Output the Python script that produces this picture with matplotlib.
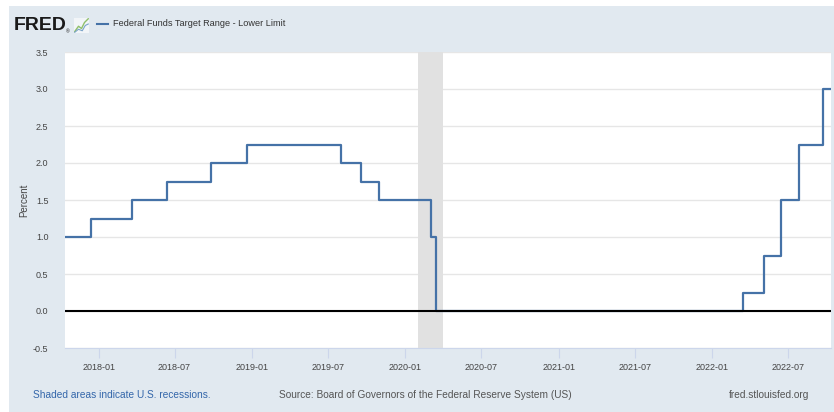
import matplotlib
matplotlib.use("Agg")
import matplotlib.pyplot as plt
import matplotlib.dates as mdates
import numpy as np
import pandas as pd

plt.rcParams['font.family'] = ['Liberation Sans', 'DejaVu Sans']

# Data: Federal Funds Target Range - Lower Limit (step changes)
change_dates = ["2017-10-13", "2017-12-14", "2018-03-22", "2018-06-14", "2018-09-27",
                "2018-12-20", "2019-08-01", "2019-09-19", "2019-10-31", "2020-03-04",
                "2020-03-16", "2022-03-17", "2022-05-05", "2022-06-16", "2022-07-28",
                "2022-09-22", "2022-10-12"]
rate_values = [1.00, 1.25, 1.50, 1.75, 2.00, 2.25, 2.00, 1.75, 1.50, 1.00,
               0.00, 0.25, 0.75, 1.50, 2.25, 3.00, 3.00]
recession_start = "2020-02-01"
recession_end = "2020-03-31"
x_start, x_end = "2017-10-13", "2022-10-12"
tick_dates = ["2018-01-01", "2018-07-01", "2019-01-01", "2019-07-01", "2020-01-01",
              "2020-07-01", "2021-01-01", "2021-07-01", "2022-01-01", "2022-07-01"]
tick_labels = ["2018-01", "2018-07", "2019-01", "2019-07", "2020-01",
               "2020-07", "2021-01", "2021-07", "2022-01", "2022-07"]
y_ticks = [-0.5, 0.0, 0.5, 1.0, 1.5, 2.0, 2.5, 3.0, 3.5]

BG = "#e1e9f0"
W, H = 834, 412
fig = plt.figure(figsize=(W / 100, H / 100), dpi=100, facecolor=BG)

# white strips at top and left
fig.patches.append(plt.Rectangle((0, 1 - 6 / H), 1, 6 / H, transform=fig.transFigure,
                                 facecolor="white", edgecolor="none", zorder=0))
fig.patches.append(plt.Rectangle((0, 0), 9 / W, 1, transform=fig.transFigure,
                                 facecolor="white", edgecolor="none", zorder=0))

left, right, top, bottom = 65, 831, 52, 348
ax = fig.add_axes([left / W, 1 - bottom / H, (right - left) / W, (bottom - top) / H])
ax.set_facecolor("white")

dates = pd.to_datetime(change_dates)
ax.step(dates, rate_values, where="post", color="#4572a7", lw=1.6, zorder=3)
ax.axhline(0, color="black", lw=1.5, zorder=4)
ax.axvspan(pd.Timestamp(recession_start), pd.Timestamp(recession_end),
           color="#e1e1e1", lw=0, zorder=1)

ax.set_xlim(pd.Timestamp(x_start), pd.Timestamp(x_end))
ax.set_ylim(-0.5, 3.5)
ax.set_yticks(y_ticks)
ax.set_yticklabels([f"{v:.1f}" for v in y_ticks])
ax.yaxis.grid(True, color="#e6e6e6", lw=1)
ax.set_axisbelow(True)
ax.set_xticks(pd.to_datetime(tick_dates))
ax.set_xticklabels(tick_labels)

for s in ["top", "right", "left"]:
    ax.spines[s].set_visible(False)
ax.spines["bottom"].set_color("#ccd6eb")
ax.spines["bottom"].set_linewidth(0.8)

ax.tick_params(axis="y", length=0, pad=12, labelsize=6.5, labelcolor="#444444")
ax.tick_params(axis="x", length=7, width=0.8, color="#ccd6eb", pad=4,
               labelsize=6.5, labelcolor="#444444")

fig.text(24 / W, 1 - 200 / H, "Percent", rotation=90, ha="center", va="center",
         fontsize=7, color="#444444")

# header
fig.text(14 / W, 1 - 26 / H, "FRED", fontsize=14, fontweight="bold", color="#1a1a1a",
         ha="left", va="center")
fig.text(66 / W, 1 - 32 / H, "®", fontsize=3.5, color="#1a1a1a", ha="left", va="center")
# small logo icon
icon = fig.add_axes([74 / W, 1 - 33 / H, 15 / W, 15 / H])
icon.set_xlim(0, 1)
icon.set_ylim(0, 1)
icon.set_facecolor("#f2f5f8")
for s in icon.spines.values():
    s.set_visible(False)
icon.set_xticks([])
icon.set_yticks([])
icon.plot([0.05, 0.3, 0.5, 0.7, 0.95], [0.1, 0.45, 0.3, 0.7, 0.95], color="#8fbf6a", lw=1)
icon.plot([0.05, 0.3, 0.55, 0.75, 0.95], [0.05, 0.25, 0.15, 0.5, 0.6], color="#7aa3c8", lw=0.8)
fig.add_artist(plt.Line2D([97 / W, 108 / W], [1 - 24 / H, 1 - 24 / H], color="#4572a7",
                          lw=1.5, transform=fig.transFigure))
fig.text(113 / W, 1 - 24 / H, "Federal Funds Target Range - Lower Limit", fontsize=6.6,
         color="#333333", ha="left", va="center")

# footer
fig.text(33 / W, 1 - 395 / H, "Shaded areas indicate U.S. recessions.", fontsize=7.3,
         color="#3366aa", ha="left", va="center")
fig.text(279 / W, 1 - 395 / H, "Source: Board of Governors of the Federal Reserve System (US)",
         fontsize=7.3, color="#555555", ha="left", va="center")
fig.text(809 / W, 1 - 395 / H, "fred.stlouisfed.org", fontsize=7.3, color="#555555",
         ha="right", va="center")

fig.savefig("out.png", dpi=100, facecolor=BG)
